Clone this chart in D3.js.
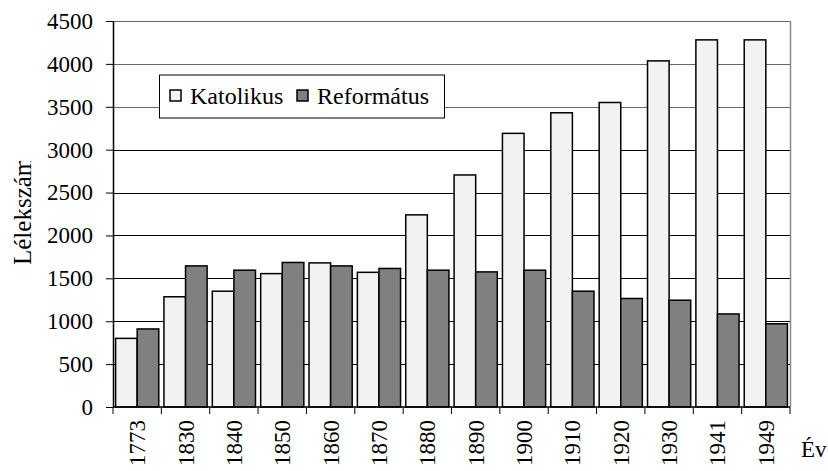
<!DOCTYPE html>
<html>
<head>
<meta charset="utf-8">
<script src="https://cdn.jsdelivr.net/npm/d3@7"></script>
<style>
  body { margin: 0; background: #fff; }
  svg text { font-family: 'Liberation Serif', 'Times New Roman', Times, serif; fill: #000; }
</style>
</head>
<body>
<svg id="chart"></svg>
<script>
// adatok
var years = ['1773', '1830', '1840', '1850', '1860', '1870', '1880', '1890', '1900', '1910', '1920', '1930', '1941', '1949'];
var katolikus = [800, 1285, 1350, 1555, 1680, 1570, 2240, 2705, 3190, 3430, 3550, 4035, 4280, 4280];
var reformatus = [910, 1645, 1595, 1685, 1645, 1615, 1595, 1575, 1595, 1350, 1265, 1245, 1085, 970];
var seriesNames = ['Katolikus', 'Református'];
var yTicks = [0, 500, 1000, 1500, 2000, 2500, 3000, 3500, 4000, 4500];

var W = 828, H = 471;
var mLeft = 113, mRight = 790, mTop = 21, mBottom = 407;
var serif = "'Liberation Serif', 'Times New Roman', serif";

var svg = d3.select('#chart')
    .attr('width', W)
    .attr('height', H)
    .attr('font-family', serif);

var data = years.map(function (yr, i) {
    return { year: yr, values: [katolikus[i], reformatus[i]] };
});

var x = d3.scaleBand()
    .domain(years)
    .range([mLeft, mRight]);

var xSub = d3.scaleBand()
    .domain(seriesNames)
    .range([0, x.bandwidth()])
    .paddingInner(0)
    .paddingOuter(0.12);

var y = d3.scaleLinear()
    .domain([0, 4500])
    .range([mBottom, mTop]);

var fills = ['#f2f2f2', '#808080'];

// rácsvonalak
svg.append('g')
    .selectAll('line')
    .data(yTicks.slice(1))
    .enter()
    .append('line')
    .attr('x1', mLeft)
    .attr('x2', mRight)
    .attr('y1', function (d) { return Math.round(y(d)) + 0.5; })
    .attr('y2', function (d) { return Math.round(y(d)) + 0.5; })
    .attr('stroke', function (d) { return d >= 3500 ? '#666' : '#000'; })
    .attr('stroke-width', 1);

// jobb oldali keret
svg.append('line')
    .attr('x1', mRight + 0.5).attr('x2', mRight + 0.5)
    .attr('y1', mTop).attr('y2', mBottom)
    .attr('stroke', '#888')
    .attr('stroke-width', 1.5);

// oszlopok
var groups = svg.append('g')
    .selectAll('g')
    .data(data)
    .enter()
    .append('g')
    .attr('transform', function (d) { return 'translate(' + x(d.year) + ',0)'; });

groups.selectAll('rect')
    .data(function (d) { return d.values.map(function (v, i) { return { name: seriesNames[i], v: v, i: i }; }); })
    .enter()
    .append('rect')
    .attr('x', function (d) { return xSub(d.name); })
    .attr('width', xSub.bandwidth())
    .attr('y', function (d) { return y(d.v); })
    .attr('height', function (d) { return y(0) - y(d.v); })
    .attr('fill', function (d) { return fills[d.i]; })
    .attr('stroke', '#000')
    .attr('stroke-width', 1.5);

// y tengely
var yAxis = svg.append('g')
    .attr('transform', 'translate(' + mLeft + ',0)')
    .call(d3.axisLeft(y).tickValues(yTicks).tickFormat(d3.format('d'))
        .tickSize(7).tickPadding(13).tickSizeOuter(0));
yAxis.attr('font-family', serif).attr('font-size', 23);
yAxis.select('.domain').attr('stroke', '#000').attr('stroke-width', 1.5);
yAxis.selectAll('.tick line').attr('stroke', '#000');
yAxis.selectAll('text').attr('fill', '#000');

// x tengely
var xAxis = svg.append('g')
    .attr('transform', 'translate(0,' + mBottom + ')');
xAxis.append('line')
    .attr('x1', mLeft).attr('x2', mRight)
    .attr('y1', 0).attr('y2', 0)
    .attr('stroke', '#000').attr('stroke-width', 1.5);
xAxis.selectAll('line.tk')
    .data(years.concat(['end']))
    .enter()
    .append('line')
    .attr('class', 'tk')
    .attr('x1', function (d, i) { return i < years.length ? x(d) : mRight; })
    .attr('x2', function (d, i) { return i < years.length ? x(d) : mRight; })
    .attr('y1', 0).attr('y2', 7)
    .attr('stroke', '#000');
xAxis.selectAll('text')
    .data(years)
    .enter()
    .append('text')
    .attr('transform', function (d) {
        return 'translate(' + (x(d) + x.bandwidth() / 2 + 8) + ',13) rotate(-90)';
    })
    .attr('text-anchor', 'end')
    .attr('font-size', 23)
    .text(function (d) { return d; });

// tengelycímek
svg.append('defs').append('clipPath')
    .attr('id', 'ytclip')
    .append('rect')
    .attr('x', 0).attr('y', 161).attr('width', 60).attr('height', 200);
svg.append('g')
    .attr('clip-path', 'url(#ytclip)')
    .append('text')
    .attr('transform', 'translate(31,265) rotate(-90)')
    .attr('text-anchor', 'start')
    .attr('font-size', 25)
    .text('Lélekszám');

svg.append('text')
    .attr('x', 801)
    .attr('y', 457)
    .attr('font-size', 23)
    .text('Év');

// jelmagyarázat
var lg = svg.append('g');
lg.append('rect')
    .attr('x', 159.5).attr('y', 75)
    .attr('width', 285).attr('height', 43)
    .attr('fill', '#fff')
    .attr('stroke', '#000')
    .attr('stroke-width', 1);
var lgX = [170, 297];
seriesNames.forEach(function (name, i) {
    lg.append('rect')
        .attr('x', lgX[i]).attr('y', 90)
        .attr('width', 11).attr('height', 11)
        .attr('fill', fills[i])
        .attr('stroke', '#000')
        .attr('stroke-width', 1.5);
    lg.append('text')
        .attr('x', lgX[i] + 20)
        .attr('y', 104)
        .attr('font-size', 24)
        .text(name);
});
</script>
</body>
</html>
